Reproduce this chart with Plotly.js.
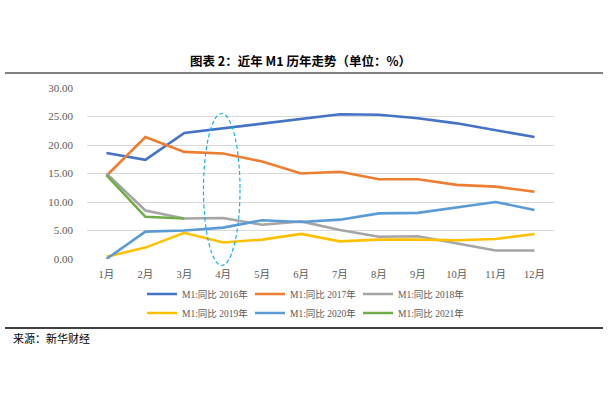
<!DOCTYPE html>
<html>
<head>
<meta charset="utf-8">
<script src="https://cdn.plot.ly/plotly-3.0.1.min.js"></script>
<style>html,body{margin:0;padding:0;background:#fff;}#chart{width:609px;height:406px;}</style>
</head>
<body>
<div id="chart"></div>
<script>
const months = ['1月','2月','3月','4月','5月','6月','7月','8月','9月','10月','11月','12月'];
const seriesNames = ['M1:同比 2016年','M1:同比 2017年','M1:同比 2018年','M1:同比 2019年','M1:同比 2020年','M1:同比 2021年'];
const y2016 = [18.6, 17.4, 22.1, 22.9, 23.7, 24.6, 25.4, 25.3, 24.7, 23.8, 22.6, 21.4];
const y2017 = [14.6, 21.4, 18.8, 18.5, 17.1, 15.0, 15.3, 14.0, 14.0, 13.0, 12.7, 11.8];
const y2018 = [15.0, 8.5, 7.1, 7.2, 6.0, 6.6, 5.1, 3.9, 4.0, 2.7, 1.5, 1.5];
const y2019 = [0.4, 2.0, 4.6, 2.9, 3.4, 4.4, 3.1, 3.4, 3.4, 3.3, 3.5, 4.4];
const y2020 = [0.0, 4.8, 5.0, 5.5, 6.8, 6.5, 6.9, 8.0, 8.1, 9.1, 10.0, 8.6];
const y2021 = [14.7, 7.4, 7.1];
const colors = ['#4472C4','#ED7D31','#A5A5A5','#FFC000','#5B9BD5','#70AD47'];
const yTicks = [0, 5, 10, 15, 20, 25, 30];

const font = 'Liberation Serif, "Noto Sans CJK SC", serif';
const allY = [y2016, y2017, y2018, y2019, y2020, y2021];
const traces = allY.map((ys, i) => ({
  type: 'scatter', mode: 'lines',
  x: months.slice(0, ys.length), y: ys,
  name: seriesNames[i],
  line: {color: colors[i], width: 2.6},
  legend: i < 3 ? 'legend' : 'legend2'
}));

// plot area: x 87..554, y 88..259
const L = 87, R = 554, T = 88, B = 259;
const px = v => (v - L) / (R - L);
const py = v => (B - v) / (B - T);

const legendCommon = {
  orientation: 'h', xanchor: 'center', yanchor: 'middle',
  font: {family: font, size: 9.5, color: '#595959'},
  entrywidth: 63, itemwidth: 30, tracegroupgap: 0, bgcolor: 'rgba(0,0,0,0)'
};

const layout = {
  width: 609, height: 406,
  margin: {l: L, r: 609 - R, t: T, b: 406 - B, pad: 0},
  paper_bgcolor: '#fff', plot_bgcolor: '#fff',
  showlegend: true,
  legend: Object.assign({}, legendCommon, {x: px(304), y: py(294)}),
  legend2: Object.assign({}, legendCommon, {x: px(304), y: py(313)}),
  xaxis: {
    type: 'category', range: [-0.5, 11.5], fixedrange: true,
    showgrid: false, showline: false, zeroline: false,
    ticks: '', tickfont: {family: font, size: 10.5, color: '#595959'},
    ticklabelstandoff: 7
  },
  yaxis: {
    range: [0, 30], tickvals: yTicks, tickformat: '.2f',
    showgrid: true, gridcolor: '#D9D9D9', gridwidth: 1,
    zeroline: false, showline: false, ticks: '',
    tickfont: {family: font, size: 11, color: '#595959'},
    ticklabelstandoff: 13
  },
  shapes: [
    {type: 'line', xref: 'paper', yref: 'paper', x0: px(5), x1: px(603), y0: py(73), y1: py(73), line: {color: '#7F7F7F', width: 2}},
    {type: 'line', xref: 'paper', yref: 'paper', x0: px(5), x1: px(603), y0: py(328), y1: py(328), line: {color: '#000', width: 1.5}},
    {type: 'circle', xref: 'paper', yref: 'paper', x0: px(203.5), x1: px(240), y0: py(265.5), y1: py(113.5), line: {color: '#1AAFEF', width: 1.2, dash: '4px,2.5px'}}
  ],
  annotations: [
    {text: '<b>图表 2：近年 M1 历年走势（单位：%）</b>', xref: 'paper', yref: 'paper', x: px(300), y: py(60), xanchor: 'center', yanchor: 'middle', showarrow: false, font: {family: '"Noto Sans CJK SC", sans-serif', size: 12.5, color: '#000'}},
    {text: '来源：新华财经', xref: 'paper', yref: 'paper', x: px(11), y: py(338), xanchor: 'left', yanchor: 'middle', showarrow: false, font: {family: '"Noto Sans CJK SC", sans-serif', size: 11, color: '#000'}}
  ]
};

Plotly.newPlot('chart', traces, layout, {displayModeBar: false, staticPlot: true});
</script>
</body>
</html>
